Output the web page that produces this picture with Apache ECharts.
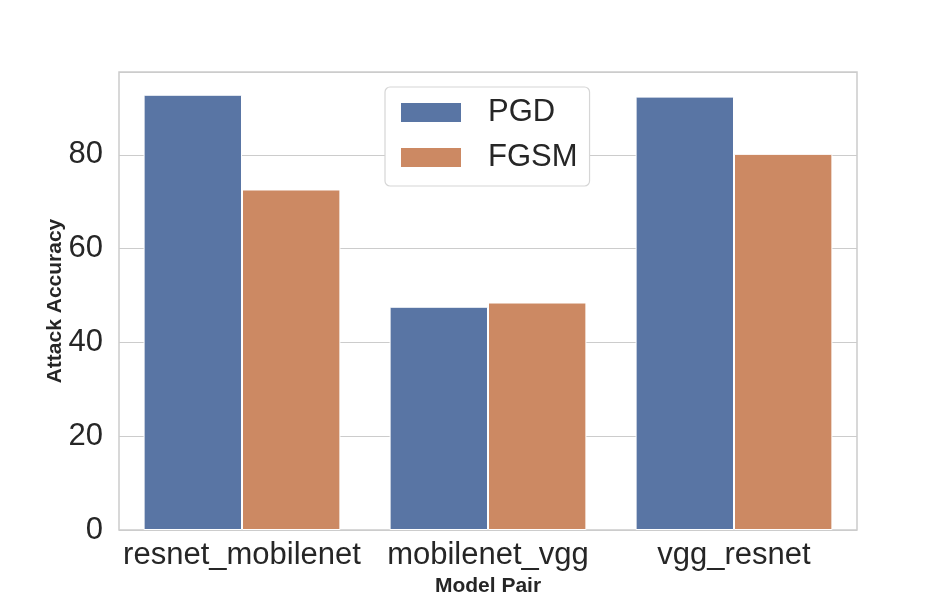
<!DOCTYPE html>
<html>
<head>
<meta charset="utf-8">
<script src="https://cdn.jsdelivr.net/npm/echarts@6/dist/echarts.min.js"></script>
<style>html,body{margin:0;padding:0;background:#fff;}#c{width:952px;height:596px;}</style>
</head>
<body>
<div id="c"></div>
<script>
var categories = ['resnet_mobilenet', 'mobilenet_vgg', 'vgg_resnet'];
var seriesNames = ['PGD', 'FGSM'];
var pgdValues = [92.8, 47.6, 92.4];
var fgsmValues = [72.6, 48.5, 80.2];
var yTicks = [0, 20, 40, 60, 80];

var font = '"Liberation Sans", Arial, Helvetica, sans-serif';
var chart = echarts.init(document.getElementById('c'), null, {renderer: 'canvas'});
chart.setOption({
  animation: false,
  backgroundColor: '#ffffff',
  grid: {left: 119, right: 95, top: 72, bottom: 66, show: true, borderColor: '#cccccc', borderWidth: 1.5,
         containLabel: false, outerBoundsMode: 'none'},
  legend: {
    data: seriesNames,
    orient: 'vertical',
    left: 385, top: 87,
    padding: [10, 12, 13, 14],
    icon: 'rect',
    itemWidth: 62, itemHeight: 21, itemGap: 14,
    borderColor: '#d6d6d6', borderWidth: 1.2, borderRadius: 5,
    backgroundColor: '#ffffff',
    textStyle: {fontFamily: font, fontSize: 31, color: '#262626', lineHeight: 31, padding: [0, 0, 0, 21]}
  },
  xAxis: {
    type: 'category',
    data: categories,
    name: 'Model Pair',
    nameLocation: 'middle',
    nameGap: 44,
    nameTextStyle: {fontFamily: font, fontSize: 21, fontWeight: 'bold', color: '#262626'},
    axisLine: {show: false},
    axisTick: {show: false},
    axisLabel: {interval: 0, hideOverlap: false, fontFamily: font, fontSize: 31, color: '#262626', margin: 10},
    splitLine: {show: false}
  },
  yAxis: {
    type: 'value',
    min: 0, max: 97.65, interval: 20,
    name: 'Attack Accuracy',
    nameLocation: 'middle',
    nameGap: 53,
    nameMoveOverlap: false,
    nameTextStyle: {fontFamily: font, fontSize: 21, fontWeight: 'bold', color: '#262626'},
    axisLine: {show: false},
    axisTick: {show: false},
    axisLabel: {fontFamily: font, fontSize: 31, color: '#262626', margin: 16,
      formatter: function (v) { return yTicks.indexOf(v) >= 0 ? String(v) : ''; }},
    splitLine: {show: true, lineStyle: {color: '#cccccc', width: 1.2}}
  },
  series: [
    {name: seriesNames[0], type: 'bar', data: pgdValues, barGap: '0%', barCategoryGap: '20%',
     itemStyle: {color: '#5975a4', borderColor: '#ffffff', borderWidth: 1}},
    {name: seriesNames[1], type: 'bar', data: fgsmValues, barGap: '0%', barCategoryGap: '20%',
     itemStyle: {color: '#cc8963', borderColor: '#ffffff', borderWidth: 1}}
  ]
});
</script>
</body>
</html>
